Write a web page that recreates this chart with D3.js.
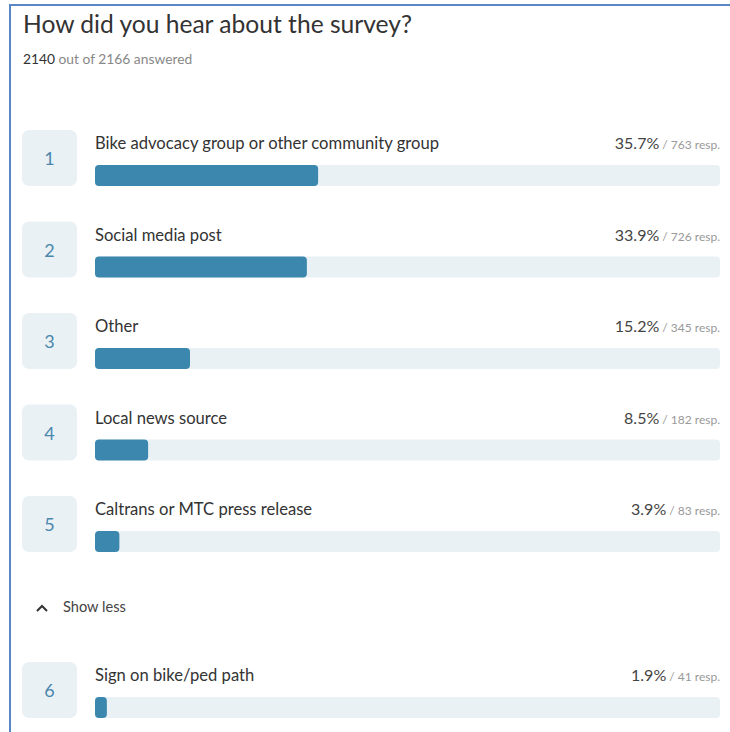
<!DOCTYPE html>
<html><head><meta charset="utf-8">
<script src="https://cdn.jsdelivr.net/npm/d3@7"></script>
<style>body{margin:0;background:#fff;}svg{display:block;}</style>
</head><body>
<script>
const title = "How did you hear about the survey?";
const answered = 2140, total = 2166;
const ranks = [1,2,3,4,5,6];
const categories = ["Bike advocacy group or other community group","Social media post","Other","Local news source","Caltrans or MTC press release","Sign on bike/ped path"];
const percents = [35.7,33.9,15.2,8.5,3.9,1.9];
const responses = [763,726,345,182,83,41];
const rowTops = [130,221.5,313,404.5,496,662];

const W=730,H=732;
const font="Lato, 'Open Sans', sans-serif";
const svg=d3.select("body").append("svg").attr("width",W).attr("height",H);
// border
svg.append("rect").attr("x",9).attr("y",4).attr("width",W).attr("height",2).attr("fill","#5b86c6");
svg.append("rect").attr("x",9).attr("y",4).attr("width",2).attr("height",H).attr("fill","#5b86c6");

svg.append("text").attr("x",23).attr("y",33).attr("font-family",font).attr("font-size",24.6).attr("fill","#333").text(title);
const sub=svg.append("text").attr("x",23).attr("y",64).attr("font-family",font).attr("font-size",13.8).attr("fill","#888");
sub.append("tspan").attr("fill","#333").text(answered);
sub.append("tspan").text(" out of "+total+" answered");

const x=d3.scaleLinear().domain([0,100]).range([95,720]);
const data=categories.map((c,i)=>({c,r:ranks[i],p:percents[i],n:responses[i],top:rowTops[i]}));
const g=svg.selectAll("g.row").data(data).enter().append("g").attr("class","row").attr("transform",d=>`translate(0,${d.top})`);
g.append("rect").attr("x",22).attr("y",0).attr("width",55).attr("height",56).attr("rx",7).attr("fill","#eaf1f5");
g.append("text").attr("x",49.5).attr("y",35).attr("text-anchor","middle").attr("font-family",font).attr("font-size",18).attr("fill","#4a87ad").text(d=>d.r);
g.append("text").attr("x",95).attr("y",19).attr("font-family",font).attr("font-size",16.6).attr("fill","#333").text(d=>d.c);
g.append("rect").attr("x",x(0)).attr("y",35).attr("width",x(100)-x(0)).attr("height",21).attr("rx",4).attr("fill","#eaf1f5");
g.append("rect").attr("x",x(0)).attr("y",35).attr("width",d=>Math.max(x(d.p)-x(0),10)).attr("height",21).attr("rx",4).attr("fill","#3c87ae");
const rt=g.append("text").attr("x",720).attr("y",19).attr("text-anchor","end").attr("font-family",font);
rt.append("tspan").attr("font-size",16).attr("fill","#444").text(d=>d.p.toFixed(1)+"%");
rt.append("tspan").attr("font-size",12).attr("fill","#999").text(d=>" / "+d.n+" resp.");

// show less
svg.append("path").attr("d","M37,611 L42,606 L47,611").attr("fill","none").attr("stroke","#333").attr("stroke-width",2);
svg.append("text").attr("x",63).attr("y",612).attr("font-family",font).attr("font-size",14.6).attr("fill","#444").text("Show less");
</script>
</body></html>
